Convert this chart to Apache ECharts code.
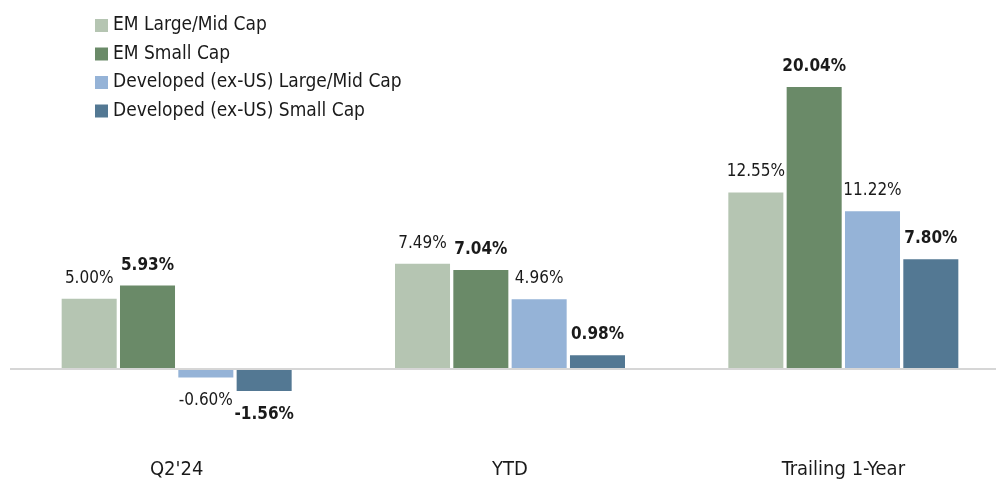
<!DOCTYPE html>
<html>
<head>
<meta charset="utf-8">
<script src="https://cdn.jsdelivr.net/npm/echarts@6/dist/echarts.min.js"></script>
<style>
  html, body { margin: 0; padding: 0; background: #fff; }
  #chart { width: 996px; height: 483px; }
</style>
</head>
<body>
<div id="chart"></div>
<script>
const categories = ["Q2'24", 'YTD', 'Trailing 1-Year'];
const seriesNames = ['EM Large/Mid Cap', 'EM Small Cap', 'Developed (ex-US) Large/Mid Cap', 'Developed (ex-US) Small Cap'];
const emLargeMid = [5.00, 7.49, 12.55];
const emSmall = [5.93, 7.04, 20.04];
const devLargeMid = [-0.60, 4.96, 11.22];
const devSmall = [-1.56, 0.98, 7.80];
const colors = ['#b5c5b2', '#6a8a68', '#95b3d7', '#537893'];
const boldLabels = [false, true, false, true];

const FONT = '"DejaVu Sans Condensed", "Liberation Sans Narrow", sans-serif';

const chart = echarts.init(document.getElementById('chart'));

const makeSeries = (name, values, idx) => {
  const s = {
    name,
    type: 'bar',
    barGap: '6%',
    barCategoryGap: '31%',
    itemStyle: { color: colors[idx] },
    label: {
      show: true,
      position: 'top',
      distance: 12,
      fontFamily: FONT,
      fontSize: 17,
      color: '#1a1a1a',
      fontWeight: boldLabels[idx] ? 'bold' : 'normal',
      formatter: p => p.value.toFixed(2) + '%'
    },
    data: values.map(v => v < 0 ? { value: v, label: { position: 'bottom', distance: 15 } } : v)
  };
  // zero line drawn once, across the whole grid
  if (idx === 0) {
    s.markLine = {
      silent: true,
      symbol: 'none',
      label: { show: false },
      lineStyle: { color: '#d6d6d6', width: 2, type: 'solid' },
      data: [{ yAxis: 0 }]
    };
  }
  return s;
};

const option = {
  animation: false,
  textStyle: { fontFamily: FONT },
  legend: {
    orient: 'vertical',
    left: 90,
    top: 11,
    itemWidth: 13,
    itemHeight: 13,
    itemGap: 9.5,
    icon: 'rect',
    textStyle: { fontSize: 19, color: '#1a1a1a', fontFamily: FONT },
    data: seriesNames
  },
  grid: { left: 10, top: 59.5, width: 1000, height: 365.8, outerBoundsMode: 'none' },
  xAxis: {
    type: 'category',
    data: categories,
    axisLine: { show: false, onZero: false },
    axisTick: { show: false },
    axisLabel: { margin: 34, fontSize: 20, color: '#1a1a1a', fontFamily: FONT }
  },
  yAxis: {
    type: 'value',
    min: -4,
    max: 22,
    show: false,
    splitLine: { show: false }
  },
  series: [
    makeSeries(seriesNames[0], emLargeMid, 0),
    makeSeries(seriesNames[1], emSmall, 1),
    makeSeries(seriesNames[2], devLargeMid, 2),
    makeSeries(seriesNames[3], devSmall, 3)
  ]
};

chart.setOption(option);
</script>
</body>
</html>
